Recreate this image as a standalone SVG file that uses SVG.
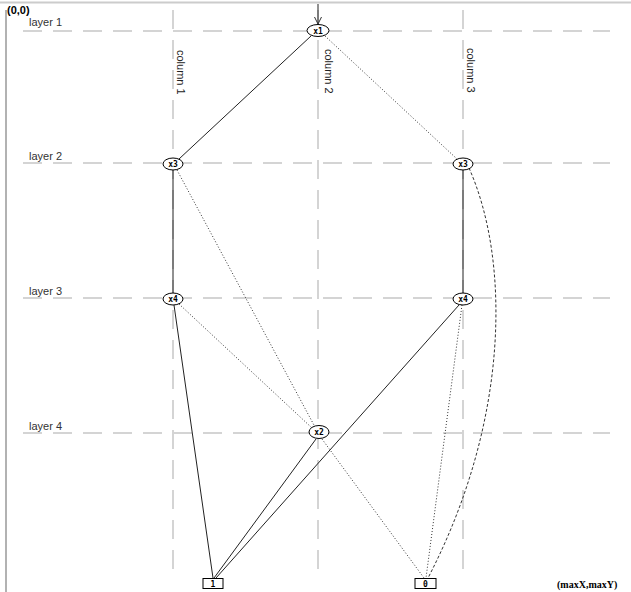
<svg xmlns="http://www.w3.org/2000/svg" width="631" height="592" viewBox="0 0 631 592">
<defs>
<style>
.grid{stroke:#d4d4d4;stroke-width:2;stroke-dasharray:19,11;fill:none}
.lbl{font-family:"Liberation Sans",Arial,sans-serif;font-size:11px;fill:#333}
.col{font-family:"Liberation Sans",Arial,sans-serif;font-size:11px;fill:#222}
.node ellipse,.node rect{fill:#fff;stroke:#000;stroke-width:1}
.node text{font-family:"DejaVu Sans Mono",monospace;font-size:8px;font-weight:bold;text-anchor:middle;fill:#000}
.solid{stroke:#222;stroke-width:1;fill:none}
.dot{stroke:#333;stroke-width:1;stroke-dasharray:1,2;fill:none}
.dash{stroke:#333;stroke-width:1;stroke-dasharray:3,2;fill:none}
</style>
<marker id="arr" markerWidth="8" markerHeight="8" refX="7" refY="4" orient="auto" markerUnits="userSpaceOnUse">
<path d="M0,0.5 L7,4 L0,7.5" fill="none" stroke="#333" stroke-width="1"/>
</marker>
</defs>
<rect width="631" height="592" fill="#fff"/>
<g id="frame">
<line x1="0" y1="2.5" x2="631" y2="2.5" stroke="#ccc" stroke-width="2"/>
<line x1="6" y1="10" x2="6" y2="592" stroke="#999" stroke-width="1.5"/>
</g>
<g id="grid">
<line class="grid" x1="23" y1="31" x2="610" y2="31"/>
<line class="grid" x1="23" y1="163" x2="610" y2="163"/>
<line class="grid" x1="23" y1="298" x2="610" y2="298"/>
<line class="grid" x1="23" y1="433" x2="610" y2="433"/>
<line class="grid" x1="173" y1="10" x2="173" y2="578"/>
<line class="grid" x1="318" y1="10" x2="318" y2="578"/>
<line class="grid" x1="463" y1="10" x2="463" y2="578"/>
</g>
<g id="labels">
<text x="7" y="14" font-family="Liberation Sans,Arial,sans-serif" font-size="11" font-weight="bold" fill="#000">(0,0)</text>
<text class="lbl" x="29" y="26">layer 1</text>
<text class="lbl" x="29" y="160">layer 2</text>
<text class="lbl" x="29" y="295">layer 3</text>
<text class="lbl" x="29" y="430">layer 4</text>
<text class="col" transform="translate(177,50) rotate(90)">column 1</text>
<text class="col" transform="translate(325,49) rotate(90)">column 2</text>
<text class="col" transform="translate(467,48) rotate(90)">column 3</text>
<text x="557" y="588" font-family="Liberation Serif,Times New Roman,serif" font-size="10" font-weight="bold" fill="#000">(maxX,maxY)</text>
</g>
<g id="connectors">
<line class="solid" x1="318" y1="4" x2="318" y2="24" marker-end="url(#arr)"/>
<line class="solid" x1="311" y1="36" x2="179" y2="159"/>
<line class="dot" x1="325" y1="36" x2="457" y2="159"/>
<line class="solid" x1="173" y1="170" x2="173" y2="293"/>
<line class="dot" x1="177" y1="170" x2="315" y2="427"/>
<line class="solid" x1="463" y1="170" x2="463" y2="293"/>
<path class="dash" d="M469,168 C510,260 510,420 428,578"/>
<line class="solid" x1="174" y1="305" x2="213" y2="578"/>
<line class="dot" x1="179" y1="304" x2="312" y2="428"/>
<line class="solid" x1="459" y1="305" x2="216" y2="578"/>
<line class="dot" x1="462" y1="305" x2="426" y2="578"/>
<line class="solid" x1="316" y1="439" x2="214" y2="578"/>
<line class="dot" x1="322" y1="439" x2="424" y2="578"/>
</g>
<g id="n_x1" class="node"><ellipse cx="318" cy="30.5" rx="11" ry="6" stroke-width="1.6"/><text x="318" y="33.5" font-size="9">x1</text></g>
<g id="n_x3a" class="node"><ellipse cx="173" cy="164" rx="10" ry="6"/><text x="173" y="167">x3</text></g>
<g id="n_x3b" class="node"><ellipse cx="463" cy="164" rx="10" ry="6"/><text x="463" y="167">x3</text></g>
<g id="n_x4a" class="node"><ellipse cx="173" cy="299" rx="10" ry="6"/><text x="173" y="302">x4</text></g>
<g id="n_x4b" class="node"><ellipse cx="463" cy="299" rx="10" ry="6"/><text x="463" y="302">x4</text></g>
<g id="n_x2" class="node"><ellipse cx="319" cy="432" rx="10" ry="6.5"/><text x="319" y="435">x2</text></g>
<g id="n_1" class="node"><rect x="203" y="578.5" width="20" height="10"/><text x="213" y="586.5">1</text></g>
<g id="n_0" class="node"><rect x="415" y="578.5" width="21" height="10"/><text x="425.5" y="586.5">0</text></g>
</svg>
